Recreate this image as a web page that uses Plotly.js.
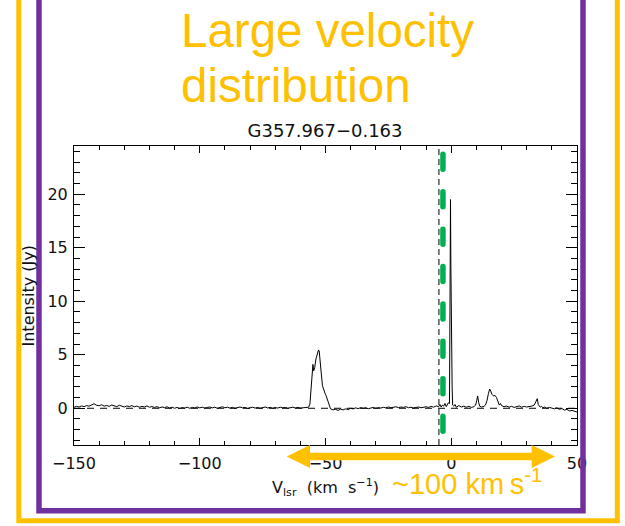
<!DOCTYPE html>
<html>
<head>
<meta charset="utf-8">
<script src="https://cdn.plot.ly/plotly-3.0.1.min.js"></script>
<style>html,body{margin:0;padding:0;background:#fff;} #chart{width:625px;height:526px;}</style>
</head>
<body>
<div id="chart"></div>
<script>
// ---- data ----
const velocity = [
 -150,-149,-148,-147,-146,-145,-144,-143,-142,-141,-140,-139,-138,-137,-136,-135,-134,-133,-132,-131,
 -130,-129,-128,-127,-126,-125,-124,-123,-122,-121,-120,-119,-118,-117,-116,-115,-114,-113,-112,-111,
 -110,-109,-108,-107,-106,-105,-104,-103,-102,-101,-100,-99,-98,-97,-96,-95,-94,-93,-92,-91,
 -90,-89,-88,-87,-86,-85,-84,-83,-82,-81,-80,-79,-78,-77,-76,-75,-74,-73,-72,-71,
 -70,-69,-68,-67,-66,-65,-64,-63,-62,-61,-60,-59,-58,-57.2,-56.7,
 -56.2,-55.7,-55.3,-55.0,-54.7,-54.3,-53.8,-53.3,-52.8,-52.5,-52.1,-51.7,-51.2,-50.7,-50.2,-49.8,-49.3,-48.9,-48.5,-48.0,
 -47,-46,-45,-44,-43,-42,-41,-40,-39,-38,-37,-36,-35,-34,-33,-32,-31,-30,
 -29,-28,-27,-26,-25,-24,-23,-22,-21,-20,-19,-18,-17,-16,-15,-14,-13,-12,-11,-10,
 -9,-8,-7,-6,-5,-4.5,-4,-3.5,-3,-2.5,-2,-1.6,-1.2,-0.7,
 -0.55,-0.45,-0.3,-0.15,0.0,0.15,0.35,0.55,
 1,1.5,2,3,4,5,6,7,8,9,9.7,10.1,10.5,10.9,11.3,12,13,13.6,14.2,14.8,15.3,15.7,16.2,16.8,17.4,18.0,18.6,19.1,19.6,
 20,21,22,23,24,25,26,27,28,29,30,31,32,33,34.2,34.6,35.0,35.4,35.8,
 36.5,37,38,39,40,41,42,43,44,45,46,47,48,49,50
];
const intensity = [
 0.10,0.18,0.12,0.22,0.15,0.25,0.20,0.30,0.42,0.28,0.24,0.33,0.20,0.26,0.18,0.30,0.22,0.15,0.28,0.20,
 0.12,0.22,0.16,0.25,0.14,0.20,0.10,0.18,0.12,0.22,0.10,0.16,0.08,0.15,0.05,0.12,0.06,0.14,0.02,0.10,
 0.00,0.08,-0.02,0.06,0.02,0.10,0.00,0.07,0.03,0.12,0.04,0.10,0.02,0.08,0.12,0.04,0.10,0.00,0.06,0.14,
 0.05,0.10,0.02,0.08,0.00,0.06,0.12,0.04,0.08,-0.02,0.05,0.10,0.02,0.08,0.00,0.06,0.12,0.03,0.09,0.00,
 0.07,0.02,0.10,0.04,0.08,0.00,0.06,0.10,0.03,0.08,0.02,0.06,0.04,0.08,0.10,
 0.40,2.00,3.80,4.10,3.50,3.80,4.60,5.10,5.45,5.35,4.60,3.30,2.10,1.60,1.40,1.20,0.80,0.45,0.15,-0.05,
 -0.15,-0.10,-0.20,-0.08,-0.15,-0.05,-0.12,0.00,-0.06,0.04,-0.03,0.06,0.00,0.05,-0.04,0.03,0.08,0.00,
 0.06,0.02,0.09,0.04,0.12,0.05,0.10,0.14,0.06,0.12,0.08,0.15,0.05,0.10,0.03,0.08,0.12,0.05,0.10,0.14,
 0.08,0.18,0.10,0.22,0.15,0.35,0.12,0.30,0.20,0.45,0.15,0.30,0.50,0.45,
 5.0,13.4,19.5,13.4,6.0,4.0,2.0,0.30,
 0.20,0.35,0.10,0.25,0.12,0.20,0.10,0.18,0.08,0.15,0.30,0.70,1.15,0.55,0.20,0.12,0.18,0.30,0.70,1.40,1.80,1.60,1.30,1.15,1.20,1.00,0.60,0.30,0.45,
 0.25,0.15,0.20,0.10,0.18,0.08,0.15,0.22,0.10,0.18,0.12,0.15,0.20,0.30,0.90,0.35,0.15,0.10,0.18,
 0.05,0.12,0.00,0.08,0.05,-0.05,0.05,-0.10,-0.02,-0.18,-0.10,-0.25,-0.20,-0.28,-0.35
];
const xTicks = [-150, -100, -50, 0, 50];
const yTicks = [0, 5, 10, 15, 20];
const xRange = [-150, 50];
const yRange = [-3.43, 24.5];
const dashedVelocity = -4.9;   // black dashed vertical line
const greenVelocity = -3.3;    // green highlight line
const baselineLevel = 0;

// ---- layout helpers (pixel -> paper) ----
const W = 625, H = 526;
const px = x => x / W;
const py = y => 1 - y / H;
const pt = (x, y) => px(x).toFixed(5) + ',' + py(y).toFixed(5);

const ORANGE = '#FFC000';
const PURPLE = '#7030A0';
const GREEN = '#00B050';
const thinFamily = 'DejaVu Sans ExtraLight, DejaVu Sans, sans-serif';
const tickFont = {family: thinFamily, size: 16, color: '#111'};

const trace = {
  x: velocity, y: intensity, type: 'scatter', mode: 'lines',
  line: {color: '#000', width: 1}, hoverinfo: 'skip'
};

const shapes = [
  {type: 'line', xref: 'x', yref: 'y', x0: xRange[0], x1: xRange[1], y0: baselineLevel, y1: baselineLevel,
   line: {color: '#000', width: 1, dash: '7px,6px'}, layer: 'below'},
  {type: 'line', xref: 'x', yref: 'y domain', x0: dashedVelocity, x1: dashedVelocity, y0: 0, y1: 1,
   line: {color: '#000', width: 1, dash: '6px,4px'}},
  {type: 'line', xref: 'x', yref: 'y domain', x0: greenVelocity, x1: greenVelocity, y0: 0.972, y1: 0.03,
   line: {color: GREEN, width: 5.5, dash: '15px,22.4px'}},
  // double arrow
  {type: 'path', xref: 'paper', yref: 'paper', layer: 'above',
   path: 'M' + pt(286.7, 456.5) + ' L' + pt(310, 445) + ' L' + pt(310, 452.7) + ' L' + pt(531.7, 452.7) +
         ' L' + pt(531.7, 445) + ' L' + pt(555, 456.5) + ' L' + pt(531.7, 468) + ' L' + pt(531.7, 460.2) +
         ' L' + pt(310, 460.2) + ' L' + pt(310, 468) + ' Z',
   fillcolor: ORANGE, line: {width: 0}},
  // purple frame
  {type: 'path', xref: 'paper', yref: 'paper', layer: 'above',
   path: 'M' + pt(39, -10) + ' L' + pt(39, 510.8) + ' L' + pt(583, 510.8) + ' L' + pt(583, -10),
   line: {color: PURPLE, width: 5.5}},
  // orange frame
  {type: 'path', xref: 'paper', yref: 'paper', layer: 'above',
   path: 'M' + pt(18.8, -10) + ' L' + pt(18.8, 520.8) + ' L' + pt(617.3, 520.8) + ' L' + pt(617.3, -10),
   line: {color: ORANGE, width: 5}}
];

const annotations = [
  {text: 'Large velocity', xref: 'paper', yref: 'paper', x: px(179), y: py(30), xanchor: 'left', yanchor: 'middle',
   showarrow: false, font: {family: 'Liberation Sans, Arial, sans-serif', size: 47.5, color: ORANGE}},
  {text: 'distribution', xref: 'paper', yref: 'paper', x: px(179), y: py(85), xanchor: 'left', yanchor: 'middle',
   showarrow: false, font: {family: 'Liberation Sans, Arial, sans-serif', size: 47.5, color: ORANGE}},
  {text: '~100 km\u2009s<sup>-1</sup>', xref: 'paper', yref: 'paper', x: px(390), y: py(482), xanchor: 'left', yanchor: 'middle',
   showarrow: false, font: {family: 'Liberation Sans, Arial, sans-serif', size: 29, color: ORANGE}},
  {text: 'Intensity (Jy)', xref: 'paper', yref: 'paper', x: px(27.5), y: py(296), xanchor: 'center', yanchor: 'middle',
   textangle: -90, showarrow: false, font: tickFont},
  {text: 'V<sub>lsr</sub>  (km  s<sup>\u22121</sup>)', xref: 'paper', yref: 'paper', x: px(325), y: py(487), xanchor: 'center', yanchor: 'middle',
   showarrow: false, font: tickFont}
];

const layout = {
  width: W, height: H,
  margin: {l: 0, r: 0, t: 0, b: 0, pad: 0},
  paper_bgcolor: '#fff', plot_bgcolor: '#fff',
  showlegend: false,
  title: {text: 'G357.967\u22120.163', x: px(325), xanchor: 'center', y: py(131), yanchor: 'middle',
          font: {family: thinFamily, size: 18, color: '#111'}},
  xaxis: {
    domain: [px(74), px(577)], range: xRange, anchor: 'y',
    tickmode: 'linear', tick0: xTicks[0], dtick: xTicks[1] - xTicks[0],
    ticks: 'inside', ticklen: 7, tickwidth: 1, tickcolor: '#000',
    minor: {ticks: 'inside', dtick: 10, ticklen: 4, tickwidth: 1, tickcolor: '#000'},
    showline: true, linecolor: '#000', linewidth: 1, mirror: 'ticks',
    showgrid: false, zeroline: false, tickfont: tickFont, ticklabelstandoff: 4
  },
  yaxis: {
    domain: [1 - 445 / H, 1 - 146 / H], range: yRange, anchor: 'x',
    tickmode: 'linear', tick0: yTicks[0], dtick: yTicks[1] - yTicks[0],
    ticks: 'inside', ticklen: 11, tickwidth: 1, tickcolor: '#000',
    minor: {ticks: 'inside', dtick: 1, ticklen: 6, tickwidth: 1, tickcolor: '#000'},
    showline: true, linecolor: '#000', linewidth: 1, mirror: 'ticks',
    showgrid: false, zeroline: false, tickfont: tickFont, ticklabelstandoff: 2
  },
  shapes: shapes,
  annotations: annotations
};

Plotly.newPlot('chart', [trace], layout, {displayModeBar: false, staticPlot: true}).then(() => {
  document.querySelectorAll('.shapelayer path').forEach(p => {
    if ((p.style.stroke || '').replace(/\s/g, '') === 'rgb(0,176,80)') p.style.strokeLinecap = 'round';
  });
});
</script>
</body>
</html>
